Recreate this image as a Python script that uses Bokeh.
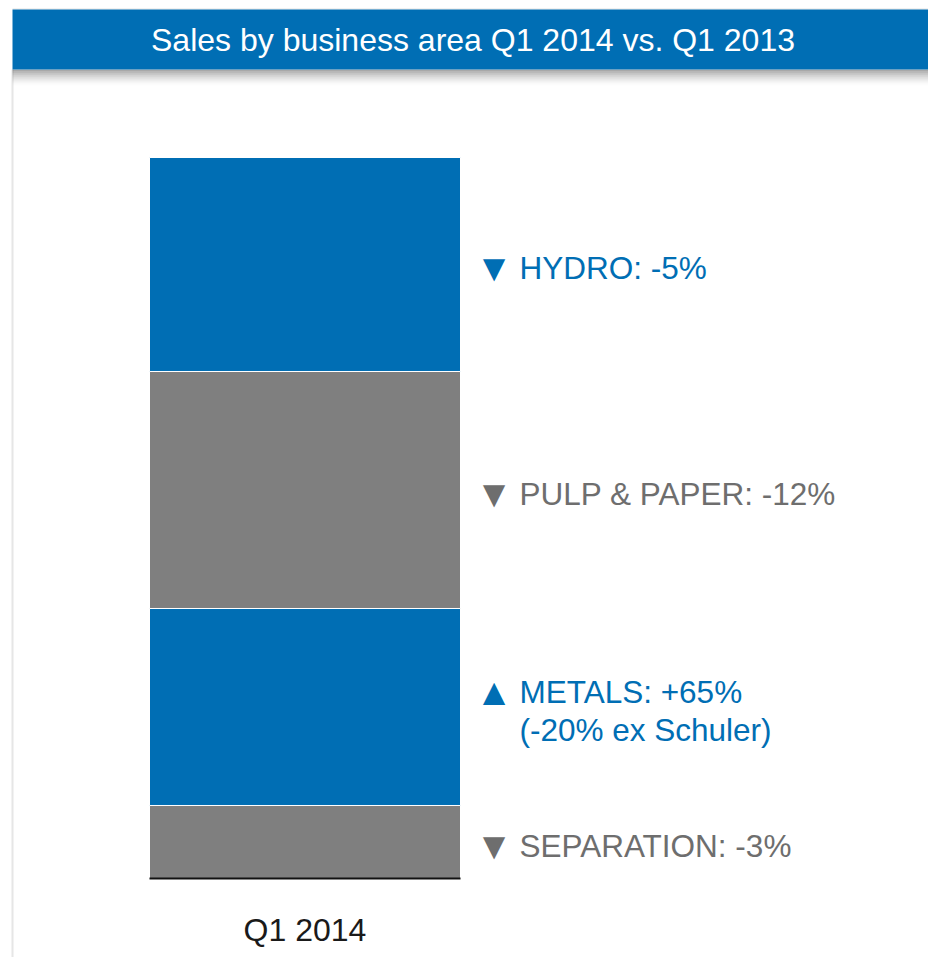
from bokeh.plotting import figure
from bokeh.models import ColumnDataSource, Range1d
from bokeh.core.properties import value
from bokeh.embed import file_html
from bokeh.resources import INLINE

# ---------------- data ----------------
title_text = "Sales by business area Q1 2014 vs. Q1 2013"
categories = ["Q1 2014"]
segments = ["Separation", "Metals", "Pulp & Paper", "Hydro"]          # bottom -> top
sales = [129.4, 349.2, 420.1, 379.3]                                   # MEUR
labels = ["SEPARATION: -3%", "METALS: +65%\n(-20% ex Schuler)", "PULP & PAPER: -12%", "HYDRO: -5%"]
arrows = ["\u25BC", "\u25B2", "\u25BC", "\u25BC"]

BLUE = "#006EB4"
GRAY = "#7F7F7F"
TEXT_GRAY = "#6E6E6E"
seg_colors = [GRAY, BLUE, GRAY, BLUE]
text_colors = [TEXT_GRAY, BLUE, TEXT_GRAY, BLUE]

FONT = "Liberation Sans"
W, H = 928, 957

total = sum(sales)
# layout: bar bottom at 878px from top, bar top at 157px
bar_px = 721.0
y_end = 878.0 / bar_px * total
y_start = y_end - H / bar_px * total
# bar 311px wide, centre at 304.5px
x_start = -304.5 / 311.0
x_end = x_start + W / 311.0

p = figure(width=W, height=H, output_backend="svg", toolbar_location=None,
           x_axis_location=None, y_axis_location=None, min_border=0,
           x_range=Range1d(x_start, x_end), y_range=Range1d(y_start, y_end))
p.outline_line_color = None
p.xgrid.visible = False
p.ygrid.visible = False
p.background_fill_color = "white"
p.border_fill_color = "white"
p.extra_x_ranges = {"px": Range1d(0, W)}
p.extra_y_ranges = {"px": Range1d(H, 0)}

# ---------------- decorations (pixel space) ----------------
p.quad(left=[11], right=[13], top=[69], bottom=[H], color="#E6E6E6", line_color=None,
       x_range_name="px", y_range_name="px")
p.quad(left=[12], right=[W], top=[8], bottom=[9], color="#E4E4E4", line_color=None,
       x_range_name="px", y_range_name="px")
n = 8
for i in range(n):
    a = 0.34 * (1 - i / n) ** 1.6
    p.quad(left=[12], right=[W], top=[69 + 2 * i], bottom=[71 + 2 * i], color="black",
           fill_alpha=a, line_color=None, x_range_name="px", y_range_name="px")
p.quad(left=[12], right=[W], top=[9], bottom=[69], color=BLUE, line_color=None,
       x_range_name="px", y_range_name="px")
p.text(x=[472.5], y=[39], text=[title_text], text_align="center", text_baseline="middle",
       text_font=value(FONT), text_font_size="32px", text_color="white",
       x_range_name="px", y_range_name="px")

# ---------------- stacked bar ----------------
data = {"x": [0]}
for s, v in zip(segments, sales):
    data[s] = [v]
src = ColumnDataSource(data)
p.vbar_stack(segments, x="x", width=1, color=seg_colors, line_color="white",
             line_width=1, source=src)

# axis line under the bar
p.segment(x0=[-0.5], x1=[0.5], y0=[0], y1=[0], line_color="#111111", line_width=2)
# category label
p.text(x=[0], y=[0], text=categories, y_offset=51, text_align="center",
       text_baseline="alphabetic", text_font=value(FONT), text_font_size="32px",
       text_color="#1A1A1A")

# ---------------- segment labels ----------------
mids = []
cum = 0
for v in sales:
    mids.append(cum + v / 2)
    cum += v
FS = 31.5
LH = 1.06
LINE_PX = 38
arrow_off = [4 - (lab.count("\n") * LINE_PX) / 2 for lab in labels]
lab_src = ColumnDataSource(dict(x=[0.5] * len(labels), y=mids, text=labels,
                                arrow=arrows, color=text_colors, aoff=arrow_off))
p.text(x="x", y="y", text="text", source=lab_src, x_offset=59, y_offset=4,
       text_align="left", text_baseline="middle", text_font=value(FONT),
       text_font_size=f"{FS}px", text_color="color", text_line_height=LH)
p.text(x="x", y="y", text="arrow", source=lab_src, x_offset=33.5, y_offset="aoff",
       text_align="center", text_baseline="middle", text_font=value(FONT),
       text_font_size="38px", text_color="color")

open("out.html", "w").write(file_html(p, INLINE))
